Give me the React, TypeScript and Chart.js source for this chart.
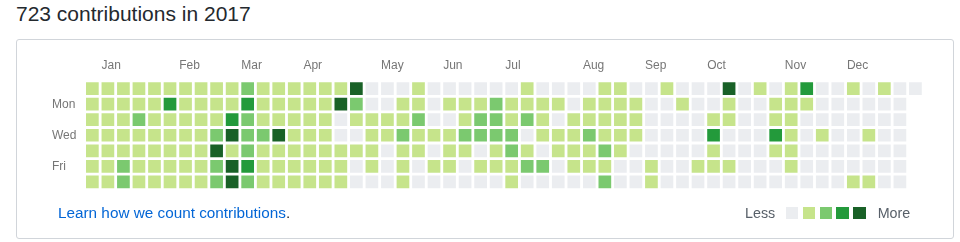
import React, { useEffect, useRef } from 'react';
import { Chart, registerables } from 'chart.js';

Chart.register(...registerables);

// ---- data ----
const weekdayLabels = ['Sun', 'Mon', 'Tue', 'Wed', 'Thu', 'Fri', 'Sat'];
const shownDayRows = [1, 3, 5];
const monthLabels = ['Jan', 'Feb', 'Mar', 'Apr', 'May', 'Jun', 'Jul', 'Aug', 'Sep', 'Oct', 'Nov', 'Dec'];
const monthStartWeeks = [1, 6, 10, 14, 19, 23, 27, 32, 36, 40, 45, 49];
const levelColors = ['#ebedf0', '#c6e48b', '#7bc96f', '#239a3b', '#196127'];

// contribution level (0-4) per week column, one array per weekday
const sun = [1,1,1,1,1,1,1,1,1,1, 2,1,1,1,1,1,1,4,0,0, 0,1,0,0,0,0,0,0,1,0, 0,0,0,1,1,0,0,1,0,0, 0,4,0,1,0,1,3,0,0,1, 0,1,0,0];
const mon = [1,1,1,1,1,3,1,1,1,1, 3,1,1,1,1,1,4,2,0,0, 1,1,0,1,1,1,2,1,1,1, 1,0,1,1,1,1,0,0,1,0, 0,1,0,0,1,1,1,0,0,0, 0,0,0];
const tue = [1,1,1,2,1,1,1,1,1,3, 2,1,1,1,1,1,0,1,1,1, 1,2,0,0,1,2,2,1,2,1, 0,1,1,1,1,1,0,0,0,0, 1,1,0,0,1,1,0,0,0,0, 0,0,0];
const wed = [1,1,1,1,1,1,1,1,2,4, 2,2,4,1,1,1,0,0,1,1, 2,1,1,1,2,2,2,2,0,1, 1,1,2,1,1,1,0,0,0,0, 3,0,0,0,3,1,0,1,0,0, 1,0,0];
const thu = [1,1,1,1,1,1,1,1,4,1, 2,1,1,1,1,1,1,1,1,0, 1,1,0,1,1,0,1,2,1,0, 1,1,1,2,1,0,0,0,0,0, 1,0,0,0,1,1,0,0,0,0, 0,0,0];
const fri = [1,1,2,1,1,1,1,1,2,4, 3,1,1,1,1,1,1,0,1,0, 1,0,1,1,0,1,1,1,2,2, 0,1,1,1,0,0,1,0,0,1, 1,1,0,0,0,1,0,0,0,0, 0,0,0];
const sat = [1,1,2,1,1,1,1,1,2,4, 2,1,1,1,1,1,1,0,0,0, 1,0,0,0,0,0,0,1,0,0, 0,0,0,2,0,0,1,0,0,0, 0,0,0,0,0,0,0,0,0,1, 1,0,0];
const weekRows = [sun, mon, tue, wed, thu, fri, sat];

const FONT = '"Liberation Sans", Arial, Helvetica, sans-serif';
const CELL = 12.7;

function ContributionChart() {
  const ref = useRef<HTMLCanvasElement | null>(null);
  useEffect(() => {
    if (!ref.current) return;
    const points: { x: number; y: number }[] = [];
    const colors: string[] = [];
    weekRows.forEach((row, r) => {
      row.forEach((lvl, c) => {
        points.push({ x: c, y: r });
        colors.push(levelColors[lvl]);
      });
    });
    const chart = new Chart(ref.current, {
      type: 'scatter',
      data: {
        datasets: [
          {
            data: points,
            pointStyle: 'rect',
            pointRadius: CELL / Math.SQRT2,
            pointHoverRadius: CELL / Math.SQRT2,
            pointBorderWidth: 0,
            pointHoverBorderWidth: 0,
            borderWidth: 0,
            backgroundColor: colors,
            pointBackgroundColor: colors,
            pointHoverBackgroundColor: colors,
          } as any,
        ],
      },
      options: {
        responsive: false,
        animation: false,
        events: [],
        layout: { padding: { left: 52, top: 50, right: 36.8, bottom: 52.4 } },
        plugins: { legend: { display: false }, tooltip: { enabled: false } },
        scales: {
          x: {
            type: 'linear',
            position: 'top',
            min: -0.5,
            max: 53.5,
            grid: { display: false, drawTicks: false },
            border: { display: false },
            afterBuildTicks: (s: any) => {
              s.ticks = monthStartWeeks.map((w) => ({ value: w - 0.41 }));
            },
            afterFit: (s: any) => {
              s.height = 30.9;
            },
            ticks: {
              autoSkip: false,
              maxRotation: 0,
              minRotation: 0,
              align: 'start',
              padding: 8.2,
              color: '#767676',
              font: { family: FONT, size: 12, lineHeight: 1.2 },
              callback: (_v: any, i: number) => monthLabels[i],
            },
          },
          y: {
            type: 'linear',
            reverse: true,
            min: -0.5,
            max: 6.5,
            grid: { display: false, drawTicks: false },
            border: { display: false },
            afterBuildTicks: (s: any) => {
              s.ticks = shownDayRows.map((v) => ({ value: v }));
            },
            afterFit: (s: any) => {
              s.width = 32.6;
            },
            ticks: {
              autoSkip: false,
              crossAlign: 'far',
              padding: 0,
              color: '#767676',
              font: { family: FONT, size: 12, lineHeight: 1.2 },
              callback: (v: any) => weekdayLabels[Math.round(Number(v))],
            },
          },
        },
      } as any,
    });
    return () => chart.destroy();
  }, []);
  return (
    <canvas
      ref={ref}
      width={960}
      height={242}
      style={{ position: 'absolute', left: 0, top: 0, width: 960, height: 242 }}
    />
  );
}

export default function App() {
  const legendLeft = [785.7, 802.6, 819.5, 836.4, 853.3];
  return (
    <div style={{ position: 'absolute', left: 0, top: 0, width: 960, height: 242, background: '#fff', fontFamily: FONT, overflow: 'hidden' }}>
      <div style={{ position: 'absolute', left: 16, top: 2.9, fontSize: 21, lineHeight: '21px', color: '#24292e', whiteSpace: 'nowrap' }}>
        723 contributions in 2017
      </div>
      <div style={{ position: 'absolute', left: 16, top: 39, width: 938, height: 200, boxSizing: 'border-box', border: '1px solid #d1d5da', borderRadius: 3, background: '#fff' }} />
      <ContributionChart />
      <div style={{ position: 'absolute', left: 58, top: 205.3, fontSize: 15.3, lineHeight: '15.3px', whiteSpace: 'nowrap', color: '#24292e' }}>
        <span style={{ color: '#0366d6' }}>Learn how we count contributions</span>.
      </div>
      <div style={{ position: 'absolute', left: 745, top: 206.2, fontSize: 14.3, lineHeight: '14.3px', color: '#586069', whiteSpace: 'nowrap' }}>Less</div>
      {legendLeft.map((l, i) => (
        <div key={i} style={{ position: 'absolute', left: l, top: 206.7, width: CELL, height: CELL, background: levelColors[i] }} />
      ))}
      <div style={{ position: 'absolute', left: 877.7, top: 206.2, fontSize: 14.3, lineHeight: '14.3px', color: '#586069', whiteSpace: 'nowrap' }}>More</div>
    </div>
  );
}
